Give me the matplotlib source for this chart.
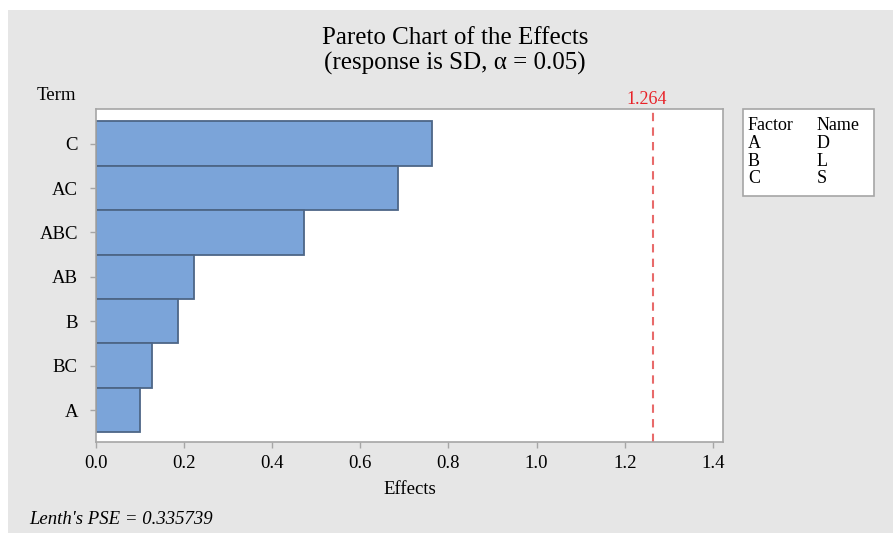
import matplotlib
matplotlib.use("Agg")
import matplotlib.pyplot as plt
from matplotlib.patches import Rectangle

plt.rcParams['font.family'] = ['Liberation Serif', 'DejaVu Serif']

# data (largest effect on top)
terms = ["C", "AC", "ABC", "AB", "B", "BC", "A"]
effects = [0.762, 0.685, 0.473, 0.222, 0.185, 0.126, 0.099]
critical = 1.264
x_ticks = [0.0, 0.2, 0.4, 0.6, 0.8, 1.0, 1.2, 1.4]
factors = ["A", "B", "C"]
names = ["D", "L", "S"]

BAR_COLOR = "#7ba4d9"
EDGE_COLOR = "#4d6687"
SPINE_COLOR = "#a6a6a6"
FS = 13.5

W, H = 893, 533
fig = plt.figure(figsize=(W / 100, H / 100), dpi=100)
fig.patch.set_facecolor("white")
fig.patches.append(Rectangle((8 / W, 0), 1, 1 - 10 / H, transform=fig.transFigure,
                             facecolor="#e6e6e6", edgecolor="none", zorder=-10))

ax = fig.add_axes([96 / W, 1 - 442 / H, 627 / W, 333 / H])
ax.set_facecolor("white")

ypos = list(range(len(terms)))[::-1]
ax.barh(ypos, effects, height=1.0, color=BAR_COLOR, edgecolor=EDGE_COLOR, linewidth=1.3)
ax.axvline(critical, color="#e86a6a", linestyle=(0, (4, 3)), linewidth=1.5)

ax.set_xlim(0, 1.423)
ax.set_ylim(-0.72, 6.78)
ax.set_yticks(ypos)
ax.set_yticklabels(terms, fontsize=FS)
ax.set_xticks(x_ticks)
ax.set_xticklabels([f"{t:.1f}" for t in x_ticks], fontsize=FS)
ax.tick_params(axis="y", color=SPINE_COLOR, length=4, width=1, pad=9)
ax.tick_params(axis="x", color=SPINE_COLOR, length=4, width=1, pad=5)
for s in ax.spines.values():
    s.set_color(SPINE_COLOR)
    s.set_linewidth(1.2)

def px_text(x, y, s, **kw):
    fig.text(x / W, 1 - y / H, s, **kw)

px_text(647, 100, f"{critical:.3f}", color="#e82228", ha="center", va="center", fontsize=13)
px_text(409.5, 490, "Effects", ha="center", va="center", fontsize=FS)
px_text(455, 38, "Pareto Chart of the Effects", ha="center", va="center", fontsize=18)
px_text(455, 63, "(response is SD, \u03b1 = 0.05)", ha="center", va="center", fontsize=18)
px_text(37, 96, "Term", ha="left", va="center", fontsize=FS)
px_text(29, 520, "Lenth's PSE = 0.335739", ha="left", va="center", fontsize=FS, style="italic")

# factor / name box
fig.patches.append(Rectangle((743 / W, 1 - 196 / H), 131 / W, 87 / H,
                             transform=fig.transFigure, facecolor="white",
                             edgecolor=SPINE_COLOR, linewidth=1.2))
rows = [("Factor", "Name")] + list(zip(factors, names))
for i, (f, n) in enumerate(rows):
    y = 126 + i * 17.5
    px_text(748, y, f, ha="left", va="center", fontsize=13)
    px_text(817, y, n, ha="left", va="center", fontsize=13)

fig.savefig("out.png", dpi=100)
